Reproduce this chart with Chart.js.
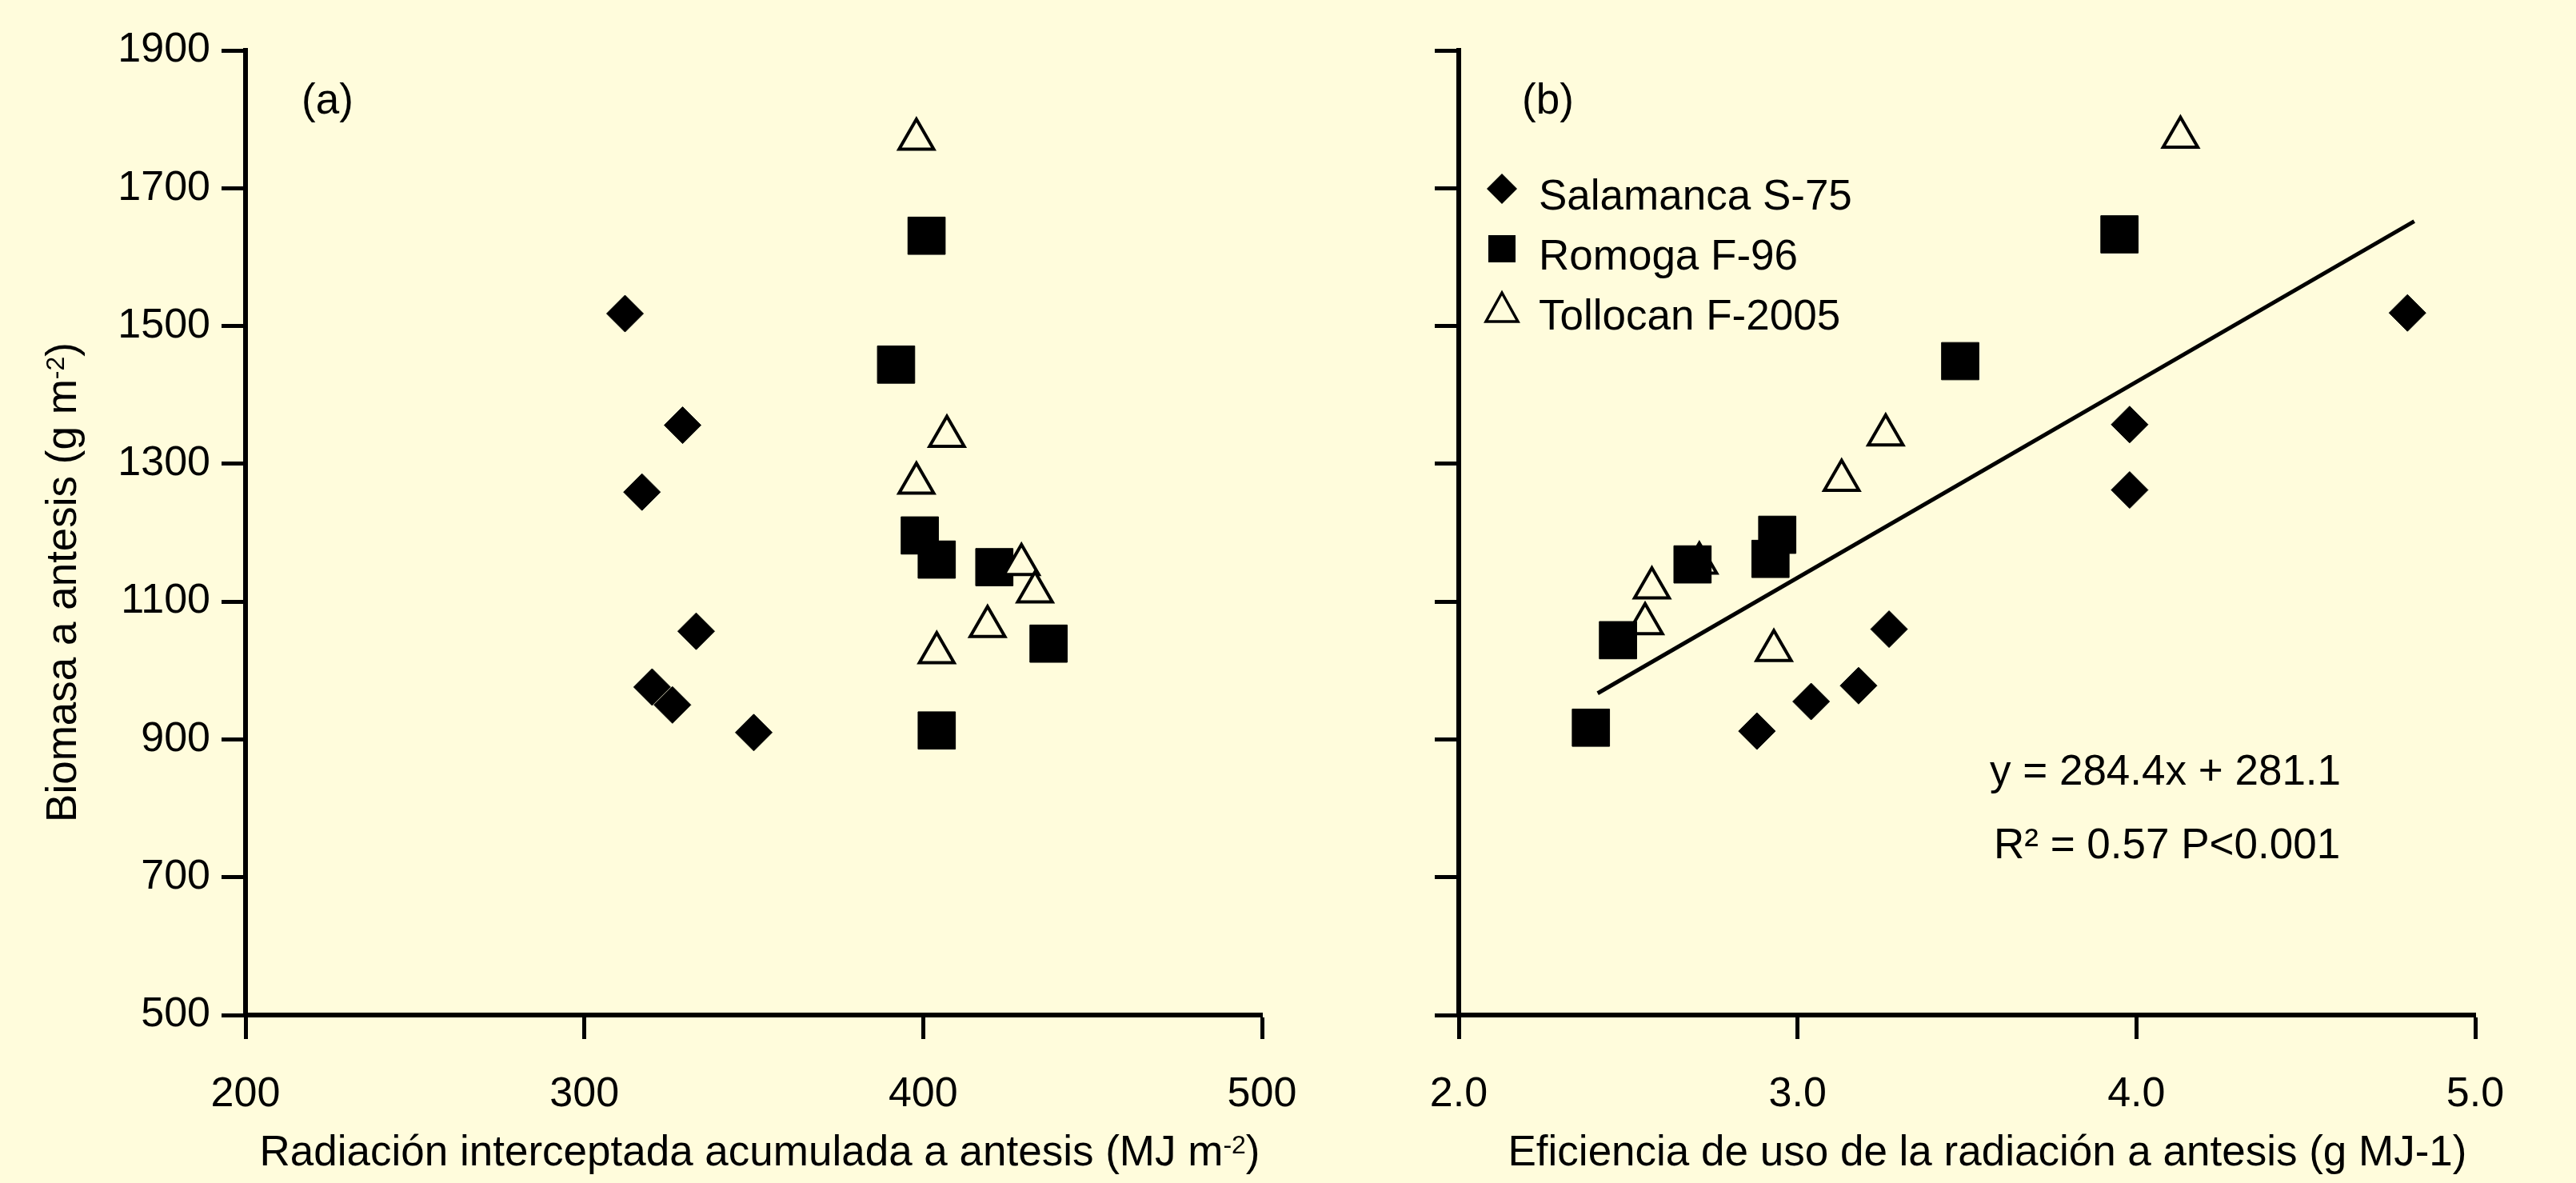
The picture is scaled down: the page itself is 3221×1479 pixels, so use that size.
<!DOCTYPE html>
<html>
<head>
<meta charset="utf-8">
<script src="https://cdn.jsdelivr.net/npm/chart.js@4.4.0/dist/chart.umd.min.js"></script>
<style>
  html, body { margin: 0; padding: 0; background: #FFFCDC; }
  body { width: 3221px; height: 1479px; position: relative; overflow: hidden; }
  #chartA { position: absolute; left: 0; top: 0; }
  #chartB { position: absolute; left: 1720px; top: 0; }
</style>
</head>
<body>
<canvas id="chartA" width="1720" height="1479"></canvas>
<canvas id="chartB" width="1501" height="1479"></canvas>
<script>
// series names, same order in both panels
const series = ['Salamanca S-75', 'Romoga F-96', 'Tollocan F-2005']

// tick values
const bioTicks = [500, 700, 900, 1100, 1300, 1500, 1700, 1900]
const radTicks = [200, 300, 400, 500]
const eurTicks = [2.0, 3.0, 4.0, 5.0]

// panel (a): radiacion interceptada vs biomasa
const salRad = [312, 329, 317, 333, 320, 326, 350]
const salBioA = [1518, 1356, 1259, 1057, 976, 950, 910]
const romRad = [401, 392, 399, 404, 421, 437, 404]
const romBioA = [1631, 1444, 1196, 1161, 1150, 1039, 913]
const tolRad = [398, 407, 398, 404, 419, 429, 433]
const tolBioA = [1771, 1340, 1272, 1026, 1064, 1154, 1114]

// panel (b): eficiencia de uso vs biomasa
const salEur = [4.80, 3.98, 3.98, 3.27, 3.18, 3.04, 2.88]
const salBioB = [1519, 1357, 1262, 1060, 978, 955, 912]
const romEur = [3.95, 3.48, 2.94, 2.92, 2.69, 2.47, 2.39]
const romBioB = [1633, 1449, 1197, 1162, 1154, 1044, 917]
const tolEur = [4.13, 3.26, 3.13, 2.71, 2.57, 2.55, 2.93]
const tolBioB = [1774, 1342, 1276, 1156, 1120, 1068, 1029]

// regression line drawn in (b)
const fitEur = [2.41, 4.82]
const fitBio = [967, 1652]
const fitText = ['y = 284.4x + 281.1', 'R² = 0.57 P<0.001']

const BG = '#FFFCDC'
const FONT = '"Liberation Sans", Arial, sans-serif'
const TICK = 52
const MAIN = 53
const SUP = 32
const RAISE = 15

function pts(xs, ys) {
  return xs.map((x, i) => ({x: x, y: ys[i]}))
}

function drawRich(ctx, parts, align) {
  let w = 0
  parts.forEach(p => {
    ctx.font = (p[1] ? SUP : MAIN) + 'px ' + FONT
    w += ctx.measureText(p[0]).width
  })
  let x = align === 'center' ? -w / 2 : (align === 'right' ? -w : 0)
  parts.forEach(p => {
    ctx.font = (p[1] ? SUP : MAIN) + 'px ' + FONT
    ctx.fillText(p[0], x, p[1] ? -RAISE : 0)
    x += ctx.measureText(p[0]).width
  })
}

// free text: axis titles with superscripts, panel letters, equation
const plotText = {
  id: 'plotText',
  afterDraw(chart, args, opts) {
    const ctx = chart.ctx
    ctx.save()
    ctx.fillStyle = '#000'
    ctx.textBaseline = 'alphabetic'
    ctx.textAlign = 'left'
    opts.items.forEach(it => {
      ctx.save()
      ctx.translate(it.x, it.y)
      if (it.rotate) ctx.rotate(-Math.PI / 2)
      drawRich(ctx, it.parts, it.align)
      ctx.restore()
    })
    ctx.restore()
  }
}

function drawMarker(ctx, shape, x, y, r) {
  ctx.beginPath()
  if (shape === 'rectRot') {
    ctx.moveTo(x, y - r); ctx.lineTo(x + r, y); ctx.lineTo(x, y + r); ctx.lineTo(x - r, y)
    ctx.closePath()
    ctx.fillStyle = '#000'
    ctx.fill()
  } else if (shape === 'rect') {
    ctx.rect(x - r, y - r, 2 * r, 2 * r)
    ctx.fillStyle = '#000'
    ctx.fill()
  } else {
    ctx.moveTo(x, y - r); ctx.lineTo(x + r * 1.0, y + r * 0.8); ctx.lineTo(x - r * 1.0, y + r * 0.8)
    ctx.closePath()
    ctx.fillStyle = BG
    ctx.fill()
    ctx.lineWidth = 3.5
    ctx.strokeStyle = '#000'
    ctx.stroke()
  }
}

// legend inside panel (b)
const sideLegend = {
  id: 'sideLegend',
  afterDraw(chart, args, opts) {
    const ctx = chart.ctx
    ctx.save()
    series.forEach((name, i) => {
      const y = opts.y + i * opts.gap
      drawMarker(ctx, opts.shapes[i], opts.markX, y - 26, opts.sizes[i])
      ctx.fillStyle = '#000'
      ctx.font = MAIN + 'px ' + FONT
      ctx.textBaseline = 'alphabetic'
      ctx.fillText(name, opts.textX, y)
    })
    ctx.restore()
  }
}

function axis(min, max, tickVals, fmt, labels, fitSize) {
  return {
    type: 'linear',
    min: min,
    max: max,
    afterBuildTicks: s => { s.ticks = tickVals.map(v => ({value: v})) },
    afterFit: fitSize,
    grid: {
      drawOnChartArea: false,
      drawTicks: true,
      tickLength: 30,
      tickWidth: 5,
      tickColor: '#000',
      color: '#000'
    },
    border: { display: true, color: '#000', width: 6 },
    ticks: {
      display: labels,
      color: '#000',
      font: { family: FONT, size: TICK },
      padding: 14,
      callback: fmt
    }
  }
}

const black = '#000'

Chart.defaults.font.family = FONT

new Chart(document.getElementById('chartA'), {
  type: 'scatter',
  data: {
    datasets: [
      { label: series[0], data: pts(salRad, salBioA), pointStyle: 'rectRot', pointRadius: 23,
        backgroundColor: black, borderColor: black, borderWidth: 1, order: 2 },
      { label: series[1], data: pts(romRad, romBioA), pointStyle: 'rect', pointRadius: 33,
        backgroundColor: black, borderColor: black, borderWidth: 1, order: 1 },
      { label: series[2], data: pts(tolRad, tolBioA), pointStyle: 'triangle', pointRadius: 25,
        backgroundColor: BG, borderColor: black, borderWidth: 4, order: 0 }
    ]
  },
  options: {
    responsive: false,
    animation: false,
    devicePixelRatio: 1,
    layout: { padding: { left: 0, right: 142, top: 63, bottom: 0 } },
    scales: {
      x: Object.assign(axis(200, 500, radTicks, v => v, true, s => { s.height = 210 }),
        { ticks: { color: '#000', font: { family: FONT, size: TICK }, padding: 38 } }),
      y: axis(500, 1900, bioTicks, v => v, true, s => { s.width = 307 })
    },
    plugins: {
      legend: { display: false },
      tooltip: { enabled: false },
      plotText: {
        items: [
          { parts: [['(a)']], x: 377, y: 142 },
          { parts: [['Radiación interceptada acumulada a antesis (MJ m'], ['-2', true], [')']],
            x: 950, y: 1457, align: 'center' },
          { parts: [['Biomasa a antesis (g m'], ['-2', true], [')']],
            x: 95, y: 728, align: 'center', rotate: true }
        ]
      }
    }
  },
  plugins: [plotText]
})

new Chart(document.getElementById('chartB'), {
  type: 'scatter',
  data: {
    datasets: [
      { type: 'line', label: 'fit', data: pts(fitEur, fitBio), borderColor: black, borderWidth: 5,
        pointRadius: 0, fill: false, order: 3 },
      { label: series[0], data: pts(salEur, salBioB), pointStyle: 'rectRot', pointRadius: 23,
        backgroundColor: black, borderColor: black, borderWidth: 1, order: 2 },
      { label: series[1], data: pts(romEur, romBioB), pointStyle: 'rect', pointRadius: 33,
        backgroundColor: black, borderColor: black, borderWidth: 1, order: 0 },
      { label: series[2], data: pts(tolEur, tolBioB), pointStyle: 'triangle', pointRadius: 25,
        backgroundColor: BG, borderColor: black, borderWidth: 4, order: 1 }
    ]
  },
  options: {
    responsive: false,
    animation: false,
    devicePixelRatio: 1,
    layout: { padding: { left: 0, right: 126, top: 63, bottom: 0 } },
    scales: {
      x: Object.assign(axis(2, 5, eurTicks, v => v.toFixed(1), true, s => { s.height = 210 }),
        { ticks: { color: '#000', font: { family: FONT, size: TICK }, padding: 38,
          callback: v => Number(v).toFixed(1) } }),
      y: axis(500, 1900, bioTicks, v => '', false, s => { s.width = 104 })
    },
    plugins: {
      legend: { display: false },
      tooltip: { enabled: false },
      plotText: {
        items: [
          { parts: [['(b)']], x: 183, y: 142 },
          { parts: [['Eficiencia de uso de la radiación a antesis (g MJ-1)']],
            x: 765, y: 1457, align: 'center' },
          { parts: [[fitText[0]]], x: 768, y: 981 },
          { parts: [[fitText[1]]], x: 773, y: 1073 }
        ]
      },
      sideLegend: {
        x: 0, y: 262, gap: 75, markX: 158, textX: 204,
        shapes: ['rectRot', 'rect', 'triangle'], sizes: [19, 17, 20]
      }
    }
  },
  plugins: [plotText, sideLegend]
})
</script>
</body>
</html>
